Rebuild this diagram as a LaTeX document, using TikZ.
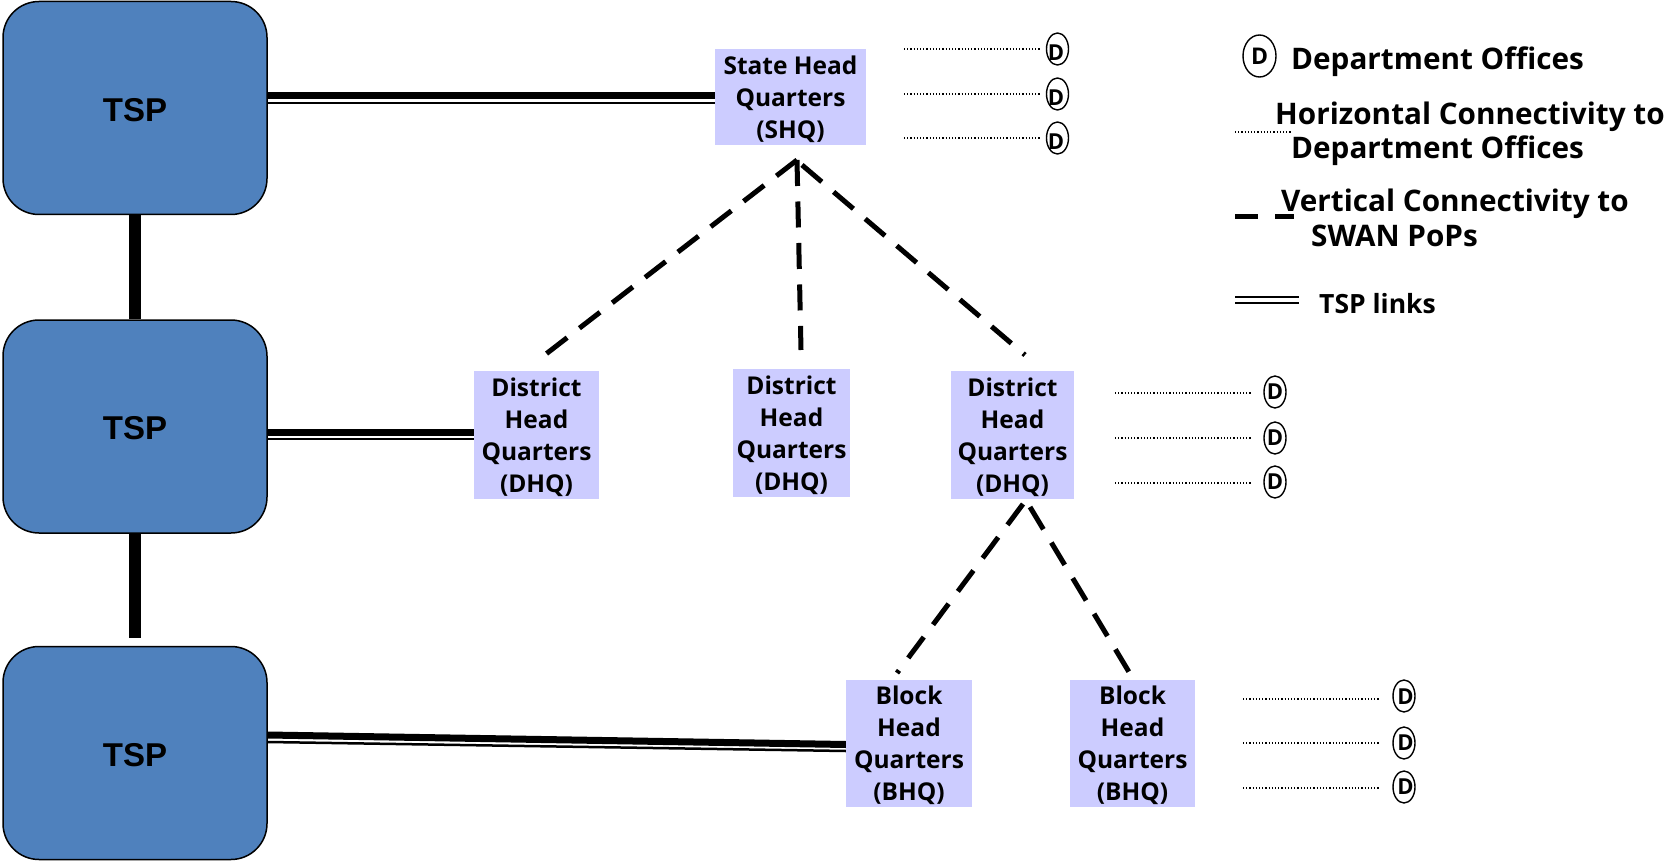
\documentclass[tikz,border=0pt]{standalone}
\usepackage{fontspec}
\setmainfont{Open Sans}
\newfontfamily\arialfont{Liberation Sans}
\usetikzlibrary{calc}
\usetikzlibrary{positioning}
\usetikzlibrary{shapes}

\begin{document}
\begin{tikzpicture}[x=1pt, y=-1pt, align=center,
	tsp/.style={rectangle, rounded corners=36pt, fill=tspblue, draw=black, line width=1.5pt, minimum width=264pt, minimum height=213pt, text height=27pt, font=\arialfont\bfseries\fontsize{33}{38}\selectfont},
	hq/.style={rectangle, fill=hqblue, inner sep=0pt, text depth=0pt, font=\bfseries\fontsize{24.5}{32}\selectfont},
	office/.style={ellipse, draw, line width=1.4pt, inner sep=0pt, minimum width=22pt, minimum height=32pt},
	dletter/.style={inner sep=0pt, font=\bfseries\fontsize{22}{22}\selectfont},
	legend/.style={anchor=west, inner sep=0pt, font=\bfseries\fontsize{29.7}{32}\selectfont},
	trunk/.style={line width=12pt},
	tspthick/.style={line width=7pt},
	tspthin/.style={line width=2.5pt},
	horiz/.style={line width=1.2pt, dotted},
	vert/.style={line width=5pt, dash pattern=on 26pt off 15.5pt},
]
\definecolor{tspblue}{HTML}{4F81BD}
\definecolor{hqblue}{HTML}{CCCCFF}
\useasboundingbox (0,0) rectangle (1674,861);
\node [tsp] (TA) at (135,108) {TSP};
\node [tsp] (TB) [below of=TA, node distance=318.5pt] {TSP};
\node [tsp] (TC) [below of=TB, node distance=326.5pt] {TSP};
\node [hq, minimum width=151pt, minimum height=96pt] (S) at (790.5,97) {State Head\\Quarters\\(SHQ)};
\node [hq, minimum width=125pt, minimum height=128pt] (DA) at (536.5,435) {District\\Head\\Quarters\\(DHQ)};
\node [hq, minimum width=117pt, minimum height=128pt] (DB) at (791.5,433) {District\\Head\\Quarters\\(DHQ)};
\node [hq, minimum width=123pt, minimum height=128pt] (DC) at (1012.5,435) {District\\Head\\Quarters\\(DHQ)};
\node [hq, minimum width=126pt, minimum height=127pt] (BA) at (909,743.5) {Block\\Head\\Quarters\\(BHQ)};
\node [hq, minimum width=125pt, minimum height=127pt] (BB) [right of=BA, node distance=223.5pt] {Block\\Head\\Quarters\\(BHQ)};
%
\foreach \name/\px/\py/\lx/\ly/\dx/\dy in {SA/1057.5/49/904/49/-1.5/4, SB/1057.5/94/904/94/-1.5/4, SC/1057.5/138/904/138/-1.5/4, EA/1275/392/1115/393/0/0, EB/1275/438/1115/438/0/0, EC/1275/482/1115/483/0/0, FA/1404/696/1243/699/1.5/1, FB/1404/743/1243/743/1.5/0, FC/1404/787/1243/788/1.5/0} {
	\node [office] (\name) at (\px,\py) {};
	\node [dletter] (\name D) at (\px+\dx,\py+\dy) {D};
	\coordinate (\name s) at (\lx,\ly);
	\draw [horiz] (\name s) -- ++(136,0);
}
%
\draw [trunk] (TA.south) -- (TB.north);
\coordinate (TCn) at (135,638);
\draw [trunk] (TB.south) -- (TCn);
%
\draw [tspthick] ([yshift=12pt]TA.east) -- ([yshift=1pt]S.west);
\draw [tspthin] ([yshift=5pt]TA.east) -- ([yshift=-6pt]S.west);
\draw [tspthick] ([yshift=-5.5pt]TB.east) -- ([yshift=3pt]DA.west);
\draw [tspthin] ([yshift=-12.5pt]TB.east) -- ([yshift=-4pt]DA.west);
\draw [tspthick] ([yshift=18pt]TC.east) -- ([yshift=-1pt]BA.west);
\draw [tspthin] ([yshift=11pt]TC.east) -- ([yshift=-7.5pt]BA.west);
%
\coordinate (Sb) at (797,160);
\coordinate (Sc) at (802,165);
\coordinate (DAt) at (546,354);
\coordinate (DBt) at (801,350);
\coordinate (DCt) at (1025,355);
\coordinate (Dl) at (1023,504);
\coordinate (Dr) at (1030,507);
\coordinate (BAt) at (897,673);
\coordinate (BBt) at (1132,677);
\draw [vert] (Sb) -- (DAt);
\draw [vert] (Sb) -- (DBt);
\draw [vert] (Sc) -- (DCt);
\draw [vert] (Dl) -- (BAt);
\draw [vert] (Dr) -- (BBt);
%
\node [office, minimum width=33pt, minimum height=42pt, font=\bfseries\fontsize{23}{23}\selectfont] (LD) at (1259.5,56) {D};
\node [legend] (LA) at (1291,62) {Department Offices};
\node [legend] (LB) at (1275,117) {Horizontal Connectivity to};
\node [legend] (LC) at (1291,151) {Department Offices};
\node [legend] (LE) at (1281,204) {Vertical Connectivity to};
\node [legend] (LF) at (1311,236) {SWAN PoPs};
\node [legend, font=\bfseries\fontsize{26.5}{30}\selectfont] (LG) at (1319,304) {TSP links};
\coordinate (LHa) at (1235,132);
\coordinate (LHb) at (1291,132);
\coordinate (LVa) at (1235,217);
\coordinate (LVb) at (1294,217);
\coordinate (LTa) at (1235,297);
\coordinate (LTb) at (1299,297);
\coordinate (LUa) at (1235,303);
\coordinate (LUb) at (1299,303);
\draw [horiz, line width=2pt] (LHa) -- (LHb);
\draw [line width=5pt, dash pattern=on 22.5pt off 17.5pt] (LVa) -- (LVb);
\draw [line width=2.2pt] (LTa) -- (LTb);
\draw [line width=2.8pt] (LUa) -- (LUb);
\end{tikzpicture}
\end{document}
